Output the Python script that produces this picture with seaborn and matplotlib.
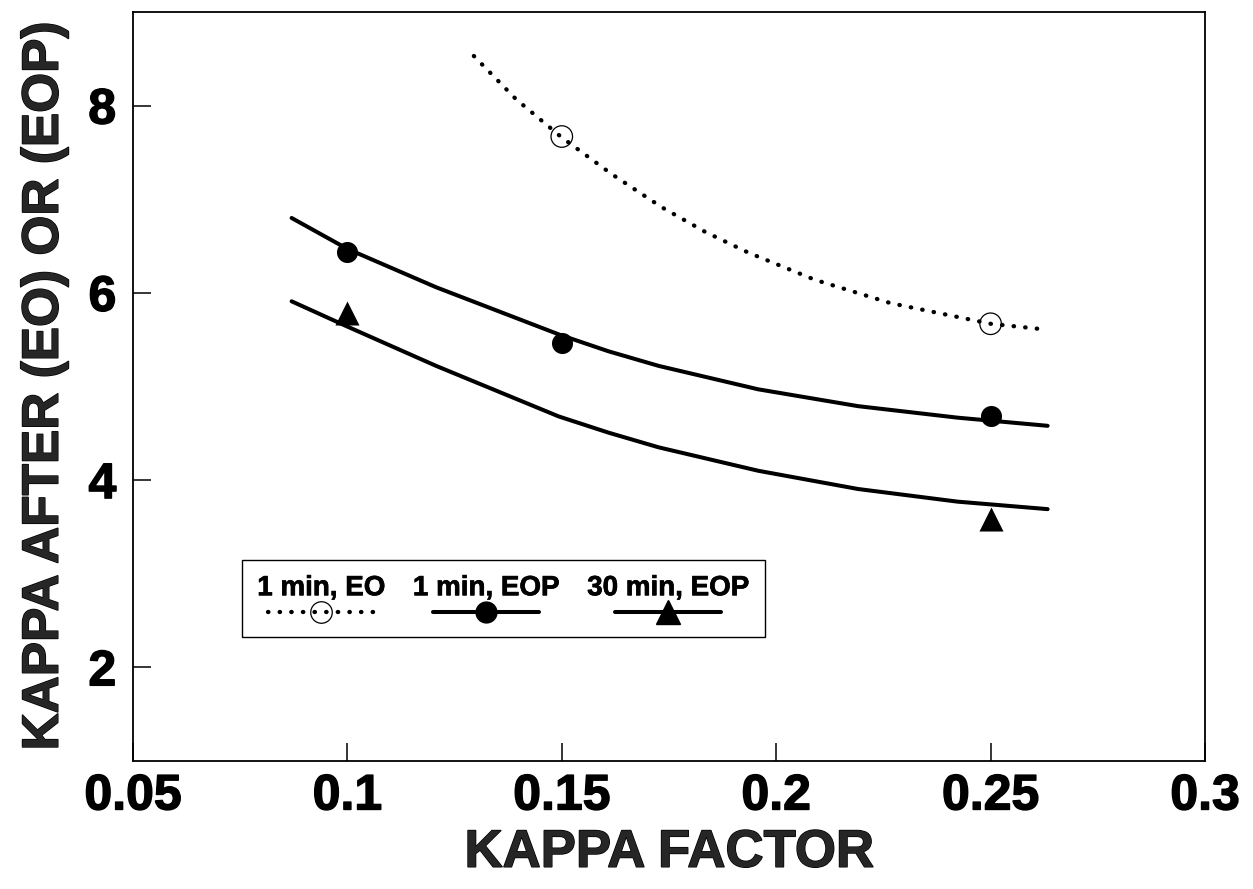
import matplotlib
matplotlib.use("Agg")
import matplotlib.pyplot as plt
import matplotlib.patheffects as pe
import seaborn as sns
from matplotlib.lines import Line2D
from matplotlib.offsetbox import (AnchoredOffsetbox, DrawingArea, HPacker,
                                  VPacker, TextArea)

# Measured kappa-after values
eo1_x = [0.15, 0.25]
eo1_y = [7.67, 5.67]
eop1_x = [0.10, 0.15, 0.25]
eop1_y = [6.44, 5.46, 4.68]
eop30_x = [0.10, 0.25]
eop30_y = [5.78, 3.59]

# Fitted trend curves
fit_eo1_x = [0.1295, 0.1393, 0.150, 0.1616, 0.1733, 0.1835, 0.1935, 0.209, 0.2267, 0.250, 0.2625]
fit_eo1_y = [8.53, 8.07, 7.66, 7.27, 6.915, 6.65, 6.43, 6.14, 5.89, 5.67, 5.61]
fit_eop1_x = [0.087, 0.100, 0.1207, 0.1495, 0.1609, 0.1726, 0.1958, 0.2191, 0.2423, 0.2633]
fit_eop1_y = [6.80, 6.47, 6.06, 5.553, 5.376, 5.22, 4.97, 4.79, 4.667, 4.58]
fit_eop30_x = [0.087, 0.100, 0.1207, 0.1493, 0.1609, 0.1726, 0.1958, 0.2191, 0.2423, 0.2633]
fit_eop30_y = [5.91, 5.64, 5.22, 4.68, 4.507, 4.35, 4.10, 3.905, 3.77, 3.69]

x_ticks = [0.05, 0.1, 0.15, 0.2, 0.25, 0.3]
x_tick_labels = ["0.05", "0.1", "0.15", "0.2", "0.25", "0.3"]
y_ticks = [2, 4, 6, 8]
y_tick_labels = ["2", "4", "6", "8"]
legend_labels = ["1 min, EO", "1 min, EOP", "30 min, EOP"]

sns.set_theme(style="white")
plt.rcParams["font.family"] = ["Liberation Sans", "DejaVu Sans"]
plt.rcParams["font.weight"] = "bold"

fig = plt.figure(figsize=(12.53, 8.89), dpi=100)
ax = fig.add_axes([0.1061, 0.1440, 0.8556, 0.8425])

DOTTED = (0, (0.1, 2.6))
LW = 2.9
HEAVY = [pe.withStroke(linewidth=1.0, foreground="black")]
HEAVY_SMALL = [pe.withStroke(linewidth=0.5, foreground="black")]

sns.lineplot(x=fit_eo1_x, y=fit_eo1_y, ax=ax, color="black", lw=3.1,
             linestyle=DOTTED, dash_capstyle="round", sort=False, estimator=None)
sns.lineplot(x=fit_eop1_x, y=fit_eop1_y, ax=ax, color="black", lw=LW,
             sort=False, estimator=None, solid_capstyle="round",
             solid_joinstyle="round")
sns.lineplot(x=fit_eop30_x, y=fit_eop30_y, ax=ax, color="black", lw=LW,
             sort=False, estimator=None, solid_capstyle="round",
             solid_joinstyle="round")

sns.scatterplot(x=eo1_x, y=eo1_y, ax=ax, marker="o", s=240,
                facecolor="none", edgecolor="black", linewidth=0.9, zorder=5)
sns.scatterplot(x=eop1_x, y=eop1_y, ax=ax, marker="o", s=230,
                color="black", edgecolor="black", linewidth=0, zorder=5)
sns.scatterplot(x=eop30_x, y=eop30_y, ax=ax, marker="^", s=300,
                color="black", edgecolor="black", linewidth=0, zorder=5)

ax.set_xlim(0.05, 0.3)
ax.set_ylim(1, 9)
ax.set_xticks(x_ticks)
ax.set_xticklabels(x_tick_labels)
ax.set_yticks(y_ticks)
ax.set_yticklabels(y_tick_labels)
ax.tick_params(axis="both", which="major", direction="in", length=13,
               width=1.1, labelsize=36, colors="black",
               bottom=True, left=True, top=False, right=False)
ax.tick_params(axis="y", pad=12)
ax.tick_params(axis="x", pad=9)
for lab in ax.get_xticklabels() + ax.get_yticklabels():
    lab.set_fontweight("bold")
    lab.set_path_effects(HEAVY)
for sp in ax.spines.values():
    sp.set_color("black")
    sp.set_linewidth(1.3)

ax.set_xlabel("KAPPA FACTOR", fontsize=38, fontweight="bold", labelpad=6,
              path_effects=HEAVY)
ax.set_ylabel("KAPPA AFTER (EO) OR (EOP)", fontsize=37, fontweight="bold",
              labelpad=14, path_effects=HEAVY)

# Legend: label text above each line sample
def legend_column(label, line_kw, marker_kw):
    w, h = 76, 14
    da = DrawingArea(w, h, 0, 0)
    da.add_artist(Line2D([0, w], [h / 2, h / 2], color="black", **line_kw))
    da.add_artist(Line2D([w / 2], [h / 2], linestyle="none", **marker_kw))
    txt = TextArea(label, textprops=dict(fontsize=20, fontweight="bold",
                                         color="black",
                                         path_effects=HEAVY_SMALL))
    return VPacker(children=[txt, da], align="center", pad=0, sep=1)

cols = [
    legend_column(legend_labels[0],
                  dict(lw=3.1, linestyle=DOTTED, dash_capstyle="round"),
                  dict(marker="o", markersize=15.5, markerfacecolor="none",
                       markeredgecolor="black", markeredgewidth=0.9)),
    legend_column(legend_labels[1],
                  dict(lw=LW, solid_capstyle="round"),
                  dict(marker="o", markersize=15, color="black")),
    legend_column(legend_labels[2],
                  dict(lw=LW, solid_capstyle="round"),
                  dict(marker="^", markersize=17, color="black")),
]
row = HPacker(children=cols, align="center", pad=11, sep=20)
box = AnchoredOffsetbox(loc="upper left", child=row, pad=0, borderpad=0,
                        frameon=True, bbox_to_anchor=(0.1017, 0.2684),
                        bbox_transform=ax.transAxes)
box.patch.set_boxstyle("square,pad=0")
box.patch.set_edgecolor("black")
box.patch.set_linewidth(1.0)
ax.add_artist(box)

fig.savefig("out.png", dpi=100, facecolor="white")
